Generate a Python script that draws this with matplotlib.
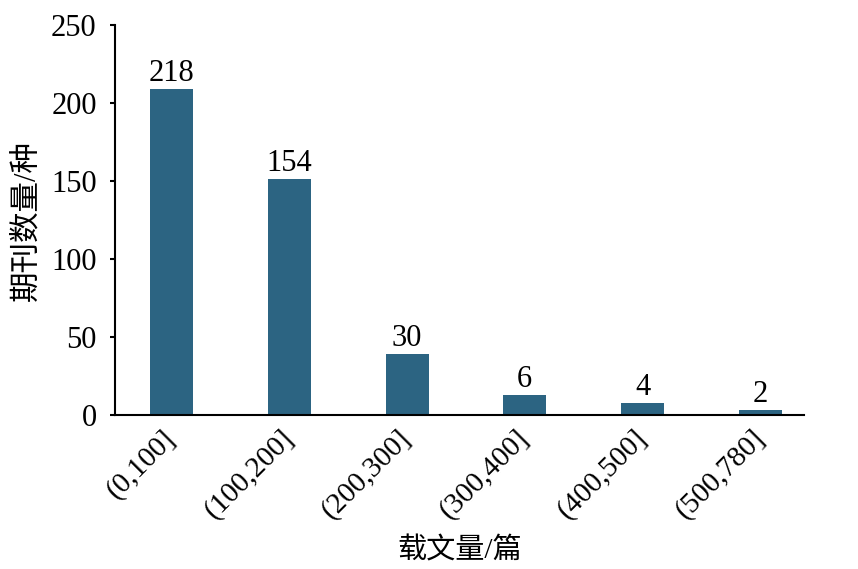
import matplotlib
matplotlib.use("Agg")
import matplotlib.pyplot as plt
from matplotlib.transforms import ScaledTranslation

# bins of article count per journal
categories = ["(0,100]", "(100,200]", "(200,300]", "(300,400]", "(400,500]", "(500,780]"]
# bar heights as drawn in the source figure
bar_heights = [209, 151, 39, 13, 7.7, 3.4]
# value labels printed above the bars
bar_labels = ["218", "154", "30", "6", "4", "2"]
y_ticks = [0, 50, 100, 150, 200, 250]

plt.rcParams["font.family"] = ["Liberation Serif", "Noto Sans CJK SC"]

BAR_COLOR = "#2c6482"

fig = plt.figure(figsize=(8.58, 5.69), dpi=100)
ax = fig.add_axes([0.1346, 0.2707, 0.8024, 0.6853])

x = range(len(categories))
ax.bar(x, bar_heights, width=0.365, color=BAR_COLOR)

for xi, h, lab in zip(x, bar_heights, bar_labels):
    ax.annotate(lab, (xi, h), xytext=(0, 5.8), textcoords="offset points",
                ha="center", va="baseline", fontsize=22)

ax.set_xlim(-0.475, 5.37)
ax.set_ylim(0, 250)
ax.set_yticks(y_ticks)
ax.set_xticks(list(x))
ax.set_xticklabels(categories, rotation=45, ha="right", va="center",
                   rotation_mode="anchor", fontsize=21)
# push the rotated labels a bit to the right, as in the source
shift = ScaledTranslation(0.14, 0, fig.dpi_scale_trans)
for lbl in ax.get_xticklabels():
    lbl.set_transform(lbl.get_transform() + shift)

ax.tick_params(axis="y", labelsize=22, length=3.5, width=1.5, pad=10)
ax.tick_params(axis="x", length=0, pad=14)

for side in ("top", "right"):
    ax.spines[side].set_visible(False)
for side in ("left", "bottom"):
    ax.spines[side].set_linewidth(1.5)

ax.set_xlabel("载文量/篇", fontsize=21, labelpad=9)
ax.set_ylabel("期刊数量/种", fontsize=22, labelpad=7)

fig.savefig("out.png", dpi=100)
